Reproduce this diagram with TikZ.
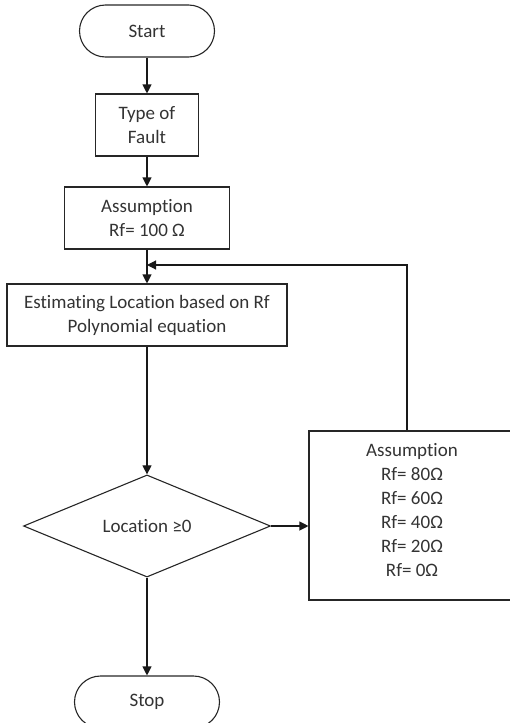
\documentclass[tikz,border=0pt]{standalone}
\usepackage{fontspec}
\setmainfont[Ligatures=NoCommon]{Carlito}
\usetikzlibrary{shapes.geometric,arrows.meta}
\begin{document}
\begin{tikzpicture}[x=1pt,y=-1pt,
  line width=1.1pt,
  box/.style={draw=black!85, rectangle, inner sep=0pt, align=center},
  term/.style={draw=black!85, rectangle, rounded corners=26pt, inner sep=0pt},
  dec/.style={draw=black!85, diamond, inner sep=0pt},
  arr/.style={draw=black!90, -{Triangle[length=9pt,width=9pt]}},
  every node/.style={font=\fontsize{19}{24}\selectfont, text=black!80}]
\useasboundingbox (0,0) rectangle (509,723);
\node[term, minimum width=135pt, minimum height=52pt] (start) at (147,31) {Start};
\node[box, minimum width=103pt, minimum height=62pt] (type) at (147,125) {Type of\\Fault};
\node[box, minimum width=165pt, minimum height=62pt] (ass) at (147,218) {Assumption\\Rf= 100 Ω};
\node[box, minimum width=280pt, minimum height=62pt] (est) at (147,315) {Estimating Location based on Rf\\Polynomial equation};
\node[dec, minimum width=247pt, minimum height=99pt] (dec) at (147,526) {Location ≥0};
\node[box, minimum width=206pt, minimum height=169pt] (rbox) at (412,515.5) {};
\node[align=center, inner sep=0pt] (rtext) at (412,510) {Assumption\\Rf= 80Ω\\Rf= 60Ω\\Rf= 40Ω\\Rf= 20Ω\\Rf= 0Ω};
\node[term, minimum width=145pt, minimum height=52pt] (stop) at (147,702) {Stop};
\coordinate (fb) at (407,265);
\draw[arr] (start) -- (type);
\draw[arr] (type) -- (ass);
\draw[arr] (ass) -- (est);
\draw[arr] (est) -- (dec);
\draw[arr] (dec) -- (stop);
\draw[arr] (dec.east) -- (rbox.west |- dec.east);
\draw[arr] (rbox.north -| fb) -- (fb) -- (fb -| est.north);
\end{tikzpicture}
\end{document}
